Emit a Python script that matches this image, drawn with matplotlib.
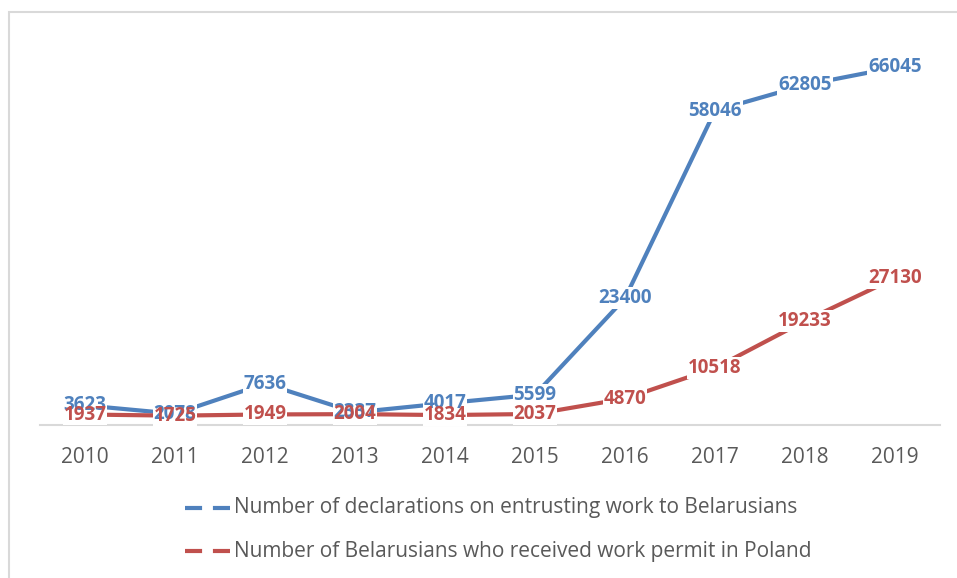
import matplotlib.pyplot as plt
from matplotlib.lines import Line2D
from matplotlib.patches import Rectangle

years = ['2010', '2011', '2012', '2013', '2014', '2015', '2016', '2017', '2018', '2019']
declarations = [3623, 2078, 7636, 2337, 4017, 5599, 23400, 58046, 62805, 66045]
permits = [1937, 1725, 1949, 2004, 1834, 2037, 4870, 10518, 19233, 27130]

blue = '#4F81BD'
red = '#C0504D'
gray = '#595959'
label_decl = 'Number of declarations on entrusting work to Belarusians'
label_perm = 'Number of Belarusians who received work permit in Poland'

plt.rcParams['font.family'] = ['Open Sans', 'DejaVu Sans']

fig = plt.figure(figsize=(9.57, 5.78), dpi=100)
ax = fig.add_axes([40 / 957, 153 / 578, 900 / 957, 379 / 578])

x = list(range(len(years)))
ax.plot(x, declarations, color=blue, lw=3, solid_capstyle='round', zorder=2)
ax.plot(x, permits, color=red, lw=3, solid_capstyle='round', zorder=2)

# white boxes behind the data labels first, then the labels themselves,
# so overlapping labels stay readable on top of each other
for series, col in [(declarations, blue), (permits, red)]:
    for i, v in enumerate(series):
        ax.text(i, v, str(v), ha='center', va='center', color='none',
                fontsize=13.5, fontweight='bold', zorder=3,
                bbox=dict(boxstyle='square,pad=0.05', fc='white', ec='none'))
for series, col in [(declarations, blue), (permits, red)]:
    for i, v in enumerate(series):
        ax.text(i, v, str(v), ha='center', va='center', color=col,
                fontsize=13.5, fontweight='bold', zorder=4)

ax.set_xlim(-0.5, len(years) - 0.5)
ax.set_ylim(0, 70000)
ax.set_xticks(x)
ax.set_xticklabels(years, fontsize=15, color=gray)
ax.set_yticks([])
ax.tick_params(axis='x', length=0, pad=16)
for s in ['top', 'right', 'left']:
    ax.spines[s].set_visible(False)
ax.spines['bottom'].set_color('#D9D9D9')
ax.spines['bottom'].set_linewidth(1.5)
ax.spines['bottom'].set_zorder(1)

# outer chart frame
fig.add_artist(Rectangle((9 / 957, -0.01), 1.0, (578 - 12) / 578 + 0.01,
                         transform=fig.transFigure, fill=False,
                         ec='#D9D9D9', lw=1.5))

# legend
for ypix, col, lab in [(508, blue, label_decl), (551, red, label_perm)]:
    yf = 1 - ypix / 578
    fig.add_artist(Line2D([185 / 957, 230 / 957], [yf, yf], color=col, lw=3,
                          linestyle=(0, (4.1, 2.6)), transform=fig.transFigure))
    fig.text(234 / 957, yf, lab, color=gray, fontsize=15, va='center', ha='left')

fig.savefig('out.png', dpi=100)
